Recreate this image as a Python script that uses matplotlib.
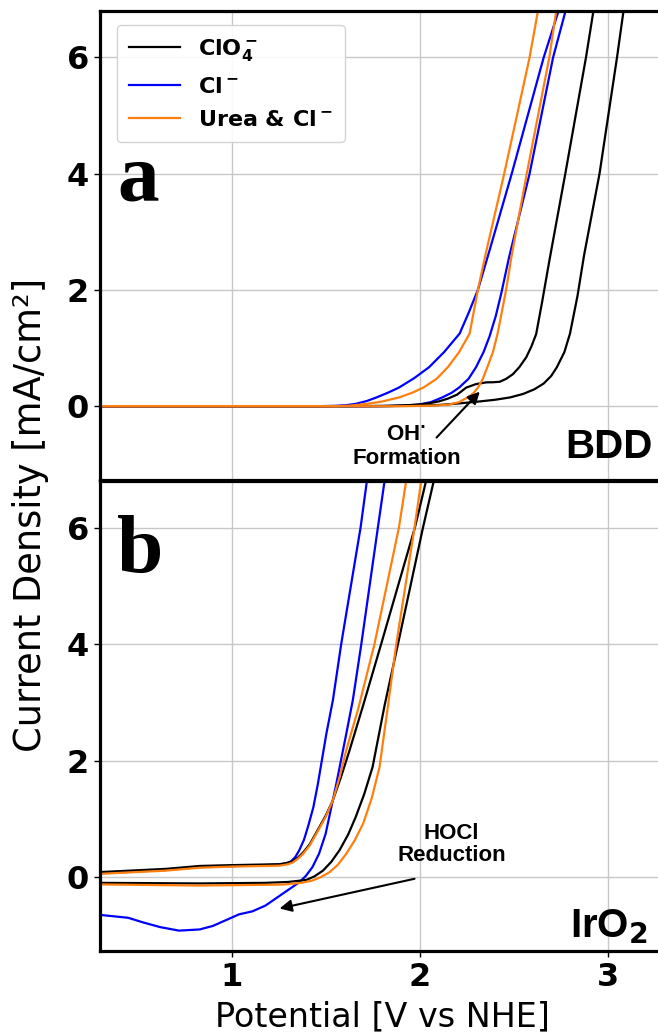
import matplotlib
matplotlib.use('Agg')
import matplotlib.pyplot as plt

plt.rcParams['mathtext.default'] = 'bf'
plt.rcParams['font.family'] = ['DejaVu Sans']

# ---------------- data ----------------
labels = ['ClO$_4^-$', 'Cl$^-$', 'Urea & Cl$^-$']
colors = ['black', '#0000ff', '#ff7f0e']
xticks = [1, 2, 3]
yticks = [0, 2, 4, 6]

# Panel a: BDD (two scan branches per electrolyte)
bdd_clo4_a_E = [0.3, 1.5, 1.8, 1.9, 1.98, 2.04, 2.10, 2.15, 2.20, 2.248, 2.30, 2.355, 2.39, 2.426, 2.46, 2.496, 2.53, 2.567, 2.595, 2.62, 2.652, 2.69, 2.775, 2.885, 2.925, 2.95]
bdd_clo4_a_J = [0.0, 0.0, 0.005, 0.012, 0.025, 0.045, 0.08, 0.13, 0.20, 0.32, 0.38, 0.41, 0.412, 0.42, 0.47, 0.55, 0.67, 0.84, 1.03, 1.24, 1.80, 2.5, 4.0, 6.0, 6.81, 7.3]
bdd_clo4_b_E = [0.3, 1.8, 2.0, 2.1, 2.2, 2.3, 2.4, 2.48, 2.55, 2.61, 2.66, 2.70, 2.73, 2.77, 2.80, 2.84, 2.875, 2.957, 3.05, 3.085, 3.11]
bdd_clo4_b_J = [0.0, 0.0, 0.01, 0.02, 0.045, 0.075, 0.11, 0.15, 0.21, 0.29, 0.39, 0.52, 0.67, 0.93, 1.25, 1.9, 2.6, 4.0, 6.0, 6.81, 7.4]

bdd_cl_a_E = [0.3, 1.45, 1.55, 1.61, 1.66, 1.72, 1.77, 1.83, 1.89, 1.97, 2.05, 2.13, 2.213, 2.26, 2.31, 2.372, 2.49, 2.66, 2.74, 2.77]
bdd_cl_a_J = [0.0, 0.0, 0.006, 0.018, 0.04, 0.09, 0.15, 0.23, 0.32, 0.48, 0.67, 0.93, 1.25, 1.6, 2.0, 2.68, 4.0, 6.0, 6.81, 7.2]
bdd_cl_b_E = [0.3, 1.7, 1.85, 1.93, 2.0, 2.06, 2.12, 2.17, 2.21, 2.26, 2.30, 2.34, 2.372, 2.405, 2.435, 2.475, 2.585, 2.71, 2.777, 2.80]
bdd_cl_b_J = [0.0, 0.0, 0.004, 0.012, 0.03, 0.07, 0.15, 0.23, 0.32, 0.47, 0.67, 0.93, 1.2, 1.55, 1.95, 2.55, 4.0, 6.0, 6.81, 7.1]

bdd_urea_a_E = [0.3, 1.55, 1.63, 1.72, 1.80, 1.89, 1.96, 2.02, 2.09, 2.15, 2.21, 2.266, 2.31, 2.35, 2.45, 2.585, 2.63, 2.66]
bdd_urea_a_J = [0.0, 0.0, 0.01, 0.04, 0.08, 0.15, 0.23, 0.32, 0.47, 0.67, 0.93, 1.25, 2.0, 2.6, 4.0, 6.0, 6.81, 7.4]
bdd_urea_b_E = [0.3, 1.9, 2.05, 2.12, 2.16, 2.21, 2.255, 2.285, 2.31, 2.335, 2.36, 2.39, 2.415, 2.46, 2.49, 2.57, 2.69, 2.727, 2.75]
bdd_urea_b_J = [0.0, 0.0, 0.008, 0.018, 0.03, 0.07, 0.15, 0.22, 0.32, 0.46, 0.67, 0.93, 1.25, 2.0, 2.6, 4.0, 6.0, 6.81, 7.2]

# Panel b: IrO2
iro2_clo4_a_E = [0.3, 0.65, 0.83, 1.007, 1.255, 1.30, 1.326, 1.355, 1.38, 1.415, 1.45, 1.50, 1.539, 1.58, 1.625, 1.70, 1.80, 1.975, 2.035, 2.06]
iro2_clo4_a_J = [0.085, 0.14, 0.19, 0.205, 0.22, 0.245, 0.275, 0.34, 0.42, 0.56, 0.76, 1.05, 1.32, 1.70, 2.15, 2.95, 4.05, 6.0, 6.81, 7.2]
iro2_clo4_b_E = [0.3, 0.83, 1.18, 1.30, 1.397, 1.44, 1.486, 1.53, 1.574, 1.62, 1.66, 1.705, 1.75, 1.814, 1.885, 2.018, 2.076, 2.10]
iro2_clo4_b_J = [-0.10, -0.11, -0.10, -0.085, -0.05, 0.01, 0.11, 0.26, 0.46, 0.73, 1.03, 1.42, 1.89, 2.95, 4.0, 6.0, 6.81, 7.2]

iro2_cl_a_E = [0.3, 0.45, 0.53, 0.62, 0.72, 0.83, 0.90, 0.97, 1.04, 1.11, 1.18, 1.27, 1.36, 1.395, 1.43, 1.465, 1.50, 1.557, 1.61, 1.645, 1.69, 1.778, 1.814, 1.83]
iro2_cl_a_J = [-0.65, -0.70, -0.78, -0.86, -0.92, -0.90, -0.84, -0.74, -0.64, -0.59, -0.49, -0.29, -0.09, 0.02, 0.17, 0.40, 0.74, 1.6, 2.46, 3.04, 4.0, 6.0, 6.81, 7.2]
iro2_cl_b_E = [0.3, 0.65, 0.83, 1.007, 1.255, 1.29, 1.317, 1.34, 1.36, 1.385, 1.406, 1.435, 1.459, 1.504, 1.539, 1.583, 1.686, 1.72, 1.74]
iro2_cl_b_J = [0.065, 0.12, 0.17, 0.186, 0.215, 0.235, 0.27, 0.35, 0.46, 0.64, 0.86, 1.2, 1.6, 2.46, 3.04, 4.0, 6.0, 6.81, 7.2]

iro2_urea_a_E = [0.3, 0.65, 0.83, 1.007, 1.255, 1.30, 1.326, 1.355, 1.38, 1.415, 1.45, 1.50, 1.539, 1.575, 1.61, 1.672, 1.76, 1.89, 1.929, 1.95]
iro2_urea_a_J = [0.055, 0.11, 0.16, 0.18, 0.195, 0.22, 0.25, 0.32, 0.40, 0.54, 0.74, 1.03, 1.32, 1.72, 2.18, 2.87, 4.0, 6.0, 6.81, 7.2]
iro2_urea_b_E = [0.3, 0.83, 1.27, 1.37, 1.43, 1.475, 1.52, 1.565, 1.61, 1.655, 1.70, 1.745, 1.787, 1.83, 1.876, 1.973, 2.009, 2.03]
iro2_urea_b_J = [-0.127, -0.146, -0.13, -0.10, -0.06, 0.0, 0.08, 0.21, 0.40, 0.63, 0.92, 1.35, 1.89, 2.9, 4.0, 6.0, 6.81, 7.2]

panels = [
    [((bdd_clo4_a_E, bdd_clo4_a_J), (bdd_clo4_b_E, bdd_clo4_b_J)),
     ((bdd_cl_a_E, bdd_cl_a_J), (bdd_cl_b_E, bdd_cl_b_J)),
     ((bdd_urea_a_E, bdd_urea_a_J), (bdd_urea_b_E, bdd_urea_b_J))],
    [((iro2_clo4_a_E, iro2_clo4_a_J), (iro2_clo4_b_E, iro2_clo4_b_J)),
     ((iro2_cl_a_E, iro2_cl_a_J), (iro2_cl_b_E, iro2_cl_b_J)),
     ((iro2_urea_a_E, iro2_urea_a_J), (iro2_urea_b_E, iro2_urea_b_J))],
]
zorders = [2.1, 2.0, 2.2]

# ---------------- figure ----------------
fig = plt.figure(figsize=(6.58, 10.33), dpi=100)
L = 100 / 658
W = 564 / 658
ax1 = fig.add_axes([L, 1 - 480 / 1033, W, 469 / 1033])
ax2 = fig.add_axes([L, 1 - 951 / 1033, W, 470 / 1033])

for ax, pdata in zip([ax1, ax2], panels):
    for (br1, br2), c, lab, z in zip(pdata, colors, labels, zorders):
        ax.plot(br1[0], br1[1], color=c, lw=1.6, label=lab, zorder=z,
                solid_joinstyle='round')
        ax.plot(br2[0], br2[1], color=c, lw=1.6, zorder=z,
                solid_joinstyle='round')
    ax.set_xlim(0.3, 3.3)
    ax.set_ylim(-1.27, 6.8)
    ax.set_xticks(xticks)
    ax.set_yticks(yticks)
    ax.grid(True, color='#c8c8c8', lw=1.0, zorder=0)
    ax.set_axisbelow(True)
    for sp in ax.spines.values():
        sp.set_linewidth(2.3)
        sp.set_color('black')
    ax.tick_params(axis='both', labelsize=23, width=1.0, length=4, pad=4)
    for t in ax.get_xticklabels() + ax.get_yticklabels():
        t.set_fontweight('bold')

ax1.tick_params(axis='x', labelbottom=False)

# legend
h, l = ax1.get_legend_handles_labels()
leg = ax1.legend(h, l, loc='upper left', bbox_to_anchor=(17 / 564, 1 - 14 / 469),
                 borderaxespad=0, prop=dict(weight='bold', size=16),
                 handlelength=2.3, handletextpad=0.8, labelspacing=0.6,
                 borderpad=0.55, framealpha=0.9, edgecolor='#d0d0d0')

# panel letters
ax1.text(0.03, 0.597, 'a', transform=ax1.transAxes, fontsize=60, fontweight='bold',
         family='Liberation Serif', ha='left', va='baseline')
ax2.text(0.03, 0.806, 'b', transform=ax2.transAxes, fontsize=60, fontweight='bold',
         family='Liberation Serif', ha='left', va='baseline')

# electrode labels
ax1.text(3.005, -0.90, 'BDD', ha='center', va='baseline', fontsize=29,
         fontweight='bold', family='Liberation Sans')
ax2.text(3.005, -1.04, 'IrO$_2$', ha='center', va='baseline', fontsize=29,
         fontweight='bold', family='Liberation Sans')

# annotations
ax1.text(1.93, -0.70, 'OH$^{\\cdot}$\nFormation', ha='center', va='center', fontsize=16,
         fontweight='bold', family='Liberation Sans', linespacing=1.1)
ax1.annotate('', xy=(2.32, 0.25), xytext=(2.09, -0.54),
             arrowprops=dict(arrowstyle='-|>', color='black', lw=1.5,
                             mutation_scale=18, shrinkA=0, shrinkB=0))
ax2.text(2.17, 0.56, 'HOCl\nReduction', ha='center', va='center', fontsize=16,
         fontweight='bold', family='Liberation Sans', linespacing=1.1)
ax2.annotate('', xy=(1.255, -0.54), xytext=(1.973, -0.03),
             arrowprops=dict(arrowstyle='-|>', color='black', lw=1.5,
                             mutation_scale=18, shrinkA=0, shrinkB=0))

# axis labels
fig.text(31 / 658, 1 - 515 / 1033, 'Current Density [mA/cm²]', rotation=90,
         ha='center', va='center', fontsize=26.5)
fig.text(382 / 658, 1 - 1026 / 1033, 'Potential [V vs NHE]', ha='center',
         va='baseline', fontsize=24)

fig.savefig('out.png', dpi=100)
